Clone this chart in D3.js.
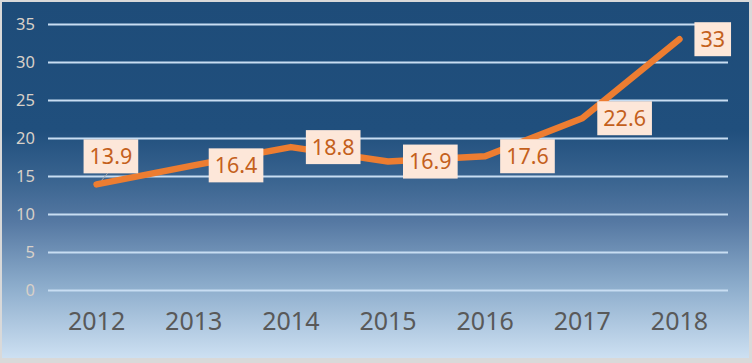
<!DOCTYPE html>
<html><head><meta charset="utf-8">
<script src="https://cdn.jsdelivr.net/npm/d3@7"></script>
<style>html,body{margin:0;padding:0;background:#fff;}svg{display:block;}</style>
</head><body>
<script>
const years = ["2012","2013","2014","2015","2016","2017","2018"];
const values = [13.9, 16.4, 18.8, 16.9, 17.6, 22.6, 33];
const labelTexts = ["13.9","16.4","18.8","16.9","17.6","22.6","33"];
const labelPlacement = ["above","right","right","right","right","right","right"];
const yTicks = [0,5,10,15,20,25,30,35];

const W = 752, H = 363;
const svg = d3.select("body").append("svg").attr("width", W).attr("height", H);

const defs = svg.append("defs");
const grad = defs.append("linearGradient").attr("id","bg").attr("x1",0).attr("y1",0).attr("x2",0).attr("y2",1);
[[0,"#1e4c79"],[0.36,"#204f7d"],[0.5,"#3a6490"],[0.62,"#5679a3"],[0.8,"#8dadcc"],[1,"#cde0f2"]]
  .forEach(([o,c]) => grad.append("stop").attr("offset",o).attr("stop-color",c));

svg.append("rect").attr("width",W).attr("height",H).attr("fill","#d9d9d9");
svg.append("rect").attr("x",2).attr("y",2).attr("width",747).attr("height",356).attr("fill","url(#bg)");

const x = d3.scaleBand().domain(years).range([48, 728]);
const y = d3.scaleLinear().domain([0,35]).range([290, 24]);

// gridlines
const yAxis = svg.append("g").attr("transform","translate(48,0)")
  .call(d3.axisLeft(y).tickValues(yTicks).tickSize(-680).tickPadding(13).tickFormat(d3.format("d")));
yAxis.select(".domain").remove();
yAxis.selectAll(".tick line").attr("stroke","#c8ddf2").attr("stroke-width",2);
yAxis.selectAll(".tick text").attr("fill","#d8d0c8").attr("font-family","'Noto Sans', sans-serif")
  .attr("font-size",16.5).attr("dy","0.36em");

// x axis
const xAxis = svg.append("g").attr("transform","translate(0,290)")
  .call(d3.axisBottom(x).tickSize(0).tickPadding(22));
xAxis.select(".domain").remove();
xAxis.selectAll(".tick text").attr("fill","#595959").attr("font-family","'Noto Sans', sans-serif")
  .attr("font-size",25).attr("dy","0.71em");

// line
const pts = years.map((yr,i) => [x(yr) + x.bandwidth()/2, y(values[i])]);
svg.append("path").datum(pts)
  .attr("d", d3.line())
  .attr("fill","none").attr("stroke","#ed7d31").attr("stroke-width",6.5)
  .attr("stroke-linecap","round").attr("stroke-linejoin","round");

// labels
const lg = svg.append("g");
pts.forEach((p,i) => {
  const g = lg.append("g");
  const t = g.append("text").text(labelTexts[i])
    .attr("font-family","'Noto Sans', sans-serif").attr("font-size",21.5).attr("fill","#c4601c");
  const bb = t.node().getBBox();
  const bw = bb.width + 12, bh = 34;
  let bx, by;
  if (labelPlacement[i] === "above") { bx = p[0] - 13; by = p[1] - 11 - bh; }
  else { bx = p[0] + 15; by = p[1] - bh/2; }
  if (labelPlacement[i] === "above") {
    g.insert("line","text").attr("x1", p[0]+11).attr("y1", by+bh).attr("x2", p[0]+5).attr("y2", p[1]-4)
      .attr("stroke","#a6a6a6").attr("stroke-width",1);
  }
  g.insert("rect","text").attr("x",bx).attr("y",by).attr("width",bw).attr("height",bh).attr("fill","#fde7d9");
  t.attr("x", bx + bw/2).attr("text-anchor","middle").attr("y", by + bh/2 + 7.5);
});
</script>
</body></html>
